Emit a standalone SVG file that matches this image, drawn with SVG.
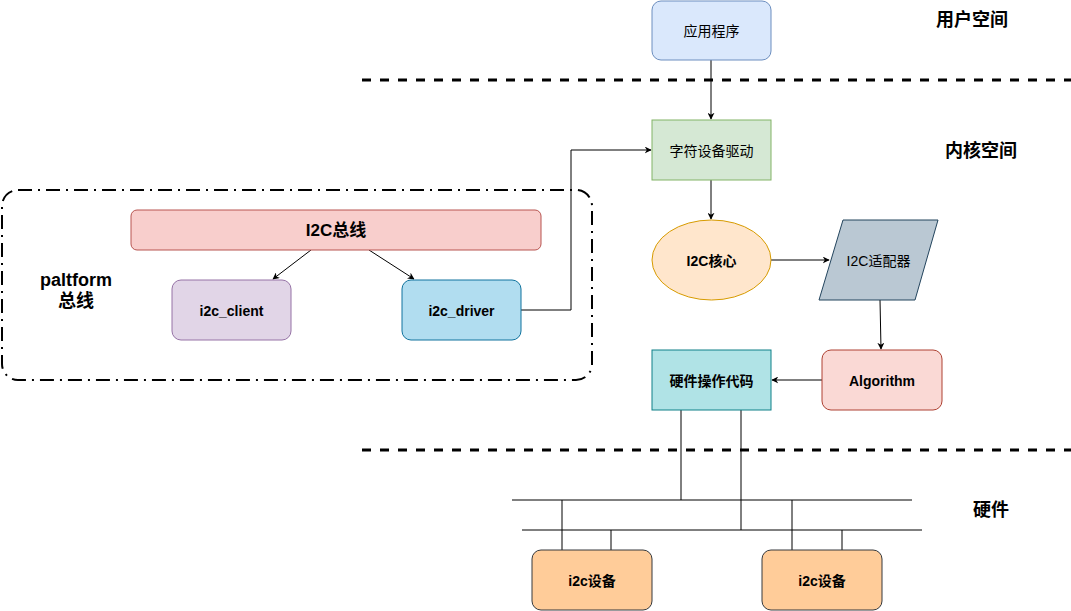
<svg xmlns="http://www.w3.org/2000/svg" width="1071" height="611" viewBox="0 0 1071 611">
<defs>
<marker id="arr" viewBox="0 0 10 10" refX="9" refY="5" markerWidth="7" markerHeight="7" orient="auto" markerUnits="userSpaceOnUse">
<path d="M0,0 L10,5 L0,10 L3,5 Z" fill="#000"/>
</marker>
</defs>
<style>
text{font-family:"Liberation Sans","Noto Sans CJK SC",sans-serif;text-anchor:middle;dominant-baseline:central;fill:#000}
.b{font-weight:bold}
.lbl{font-size:14px}
.big{font-size:18px;font-weight:bold}
.ln{stroke:#000;stroke-width:1;fill:none}
.dash{stroke:#000;stroke-width:3;stroke-dasharray:9 9;fill:none}
</style>
<rect width="1071" height="611" fill="#fff"/>
<g id="separators">
<line class="dash" x1="362" y1="80" x2="1071" y2="80"/>
<line class="dash" x1="362" y1="450" x2="1071" y2="450"/>
</g>
<g id="labels">
<text class="big" x="972" y="20">用户空间</text>
<text class="big" x="981" y="151">内核空间</text>
<text class="big" x="991" y="510">硬件</text>
</g>
<g id="platform-group">
<rect x="2" y="190" width="590" height="190" rx="16" fill="none" stroke="#000" stroke-width="2" stroke-dasharray="14 6 2 6"/>
<text class="big" x="76" y="280">paltform</text>
<text class="big" x="76" y="301">总线</text>
</g>
<g id="connectors">
<line class="ln" x1="711" y1="60" x2="711" y2="119" marker-end="url(#arr)"/>
<polyline class="ln" points="521,310 571,310 571,150 651,150" marker-end="url(#arr)"/>
<line class="ln" x1="711" y1="180" x2="711" y2="219" marker-end="url(#arr)"/>
<line class="ln" x1="771" y1="260" x2="829" y2="260" marker-end="url(#arr)"/>
<line class="ln" x1="880" y1="300" x2="881" y2="349" marker-end="url(#arr)"/>
<line class="ln" x1="822" y1="380" x2="772" y2="380" marker-end="url(#arr)"/>
<line class="ln" x1="311" y1="250" x2="273" y2="279" marker-end="url(#arr)"/>
<line class="ln" x1="369" y1="250" x2="414" y2="279" marker-end="url(#arr)"/>
<line class="ln" x1="681" y1="410" x2="681" y2="500"/>
<line class="ln" x1="741" y1="410" x2="741" y2="530"/>
<line class="ln" x1="512" y1="500" x2="912" y2="500"/>
<line class="ln" x1="522" y1="530" x2="922" y2="530"/>
<line class="ln" x1="562" y1="500" x2="562" y2="550"/>
<line class="ln" x1="611" y1="530" x2="611" y2="550"/>
<line class="ln" x1="792" y1="500" x2="792" y2="550"/>
<line class="ln" x1="842" y1="530" x2="842" y2="550"/>
</g>
<g id="app">
<rect x="652" y="1" width="119" height="59" rx="9" fill="#dae8fc" stroke="#6c8ebf"/>
<text class="lbl" x="711.5" y="31">应用程序</text>
</g>
<g id="chardev">
<rect x="652" y="120" width="119" height="60" fill="#d5e8d4" stroke="#82b366"/>
<text class="lbl" x="711.5" y="151">字符设备驱动</text>
</g>
<g id="i2cbus">
<rect x="131" y="210" width="410" height="40" rx="6" fill="#f8cecc" stroke="#b85450"/>
<text class="b" font-size="17" x="336" y="230">I2C总线</text>
</g>
<g id="i2cclient">
<rect x="172" y="280" width="119" height="60" rx="9" fill="#e1d5e7" stroke="#9673a6"/>
<text class="lbl b" x="231.5" y="311">i2c_client</text>
</g>
<g id="i2cdriver">
<rect x="402" y="280" width="119" height="60" rx="9" fill="#b1ddf0" stroke="#10739e"/>
<text class="lbl b" x="461.5" y="311">i2c_driver</text>
</g>
<g id="i2ccore">
<ellipse cx="711.5" cy="260" rx="59.5" ry="40" fill="#ffe6cc" stroke="#d79b00"/>
<text class="lbl b" x="711.5" y="261">I2C核心</text>
</g>
<g id="adapter">
<polygon points="843,220 938,220 915,300 819,300" fill="#bac8d3" stroke="#23445d"/>
<text class="lbl" x="878.5" y="261">I2C适配器</text>
</g>
<g id="algorithm">
<rect x="822" y="350" width="120" height="60" rx="9" fill="#fad9d5" stroke="#ae4132"/>
<text class="lbl b" x="882" y="381">Algorithm</text>
</g>
<g id="hwcode">
<rect x="652" y="350" width="119" height="60" fill="#b0e3e6" stroke="#0e8088"/>
<text class="lbl b" x="711.5" y="381">硬件操作代码</text>
</g>
<g id="dev1">
<rect x="532" y="550" width="120" height="60" rx="9" fill="#ffcc99" stroke="#36393d"/>
<text class="lbl b" x="592" y="581">i2c设备</text>
</g>
<g id="dev2">
<rect x="762" y="550" width="120" height="60" rx="9" fill="#ffcc99" stroke="#36393d"/>
<text class="lbl b" x="822" y="581">i2c设备</text>
</g>
</svg>
